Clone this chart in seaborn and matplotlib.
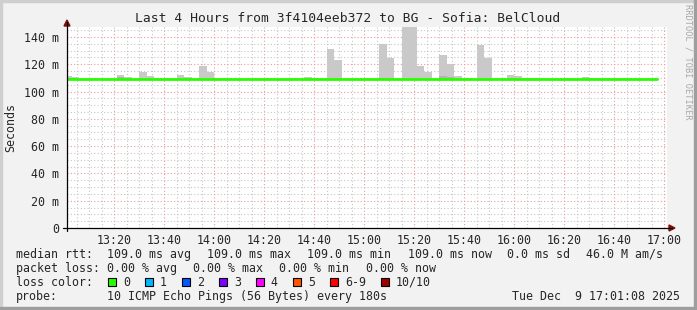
import matplotlib
matplotlib.use("Agg")
import matplotlib.pyplot as plt
from matplotlib.lines import Line2D
from matplotlib.patches import Polygon, Rectangle
import seaborn as sns
import pandas as pd

# ---------------- data ----------------
title = "Last 4 Hours from 3f4104eeb372 to BG - Sofia: BelCloud"
# smoke steps: start minute after 13:00, step of 3 minutes (180 s)
smoke_start = [0, 3, 21, 24, 30, 33, 45, 48, 54, 57, 96, 99, 105, 108, 126, 129,
               135, 138, 141, 144, 150, 153, 156, 159, 165, 168, 177, 180, 183, 186,
               207, 210]
smoke_top = [111.4, 110.5, 112.2, 110.5, 114.0, 111.4, 112.2, 110.7, 119.0, 114.4,
             110.7, 110.0, 131.2, 122.8, 134.9, 124.6, 150.0, 150.0, 119.0, 114.4,
             126.8, 120.2, 111.4, 110.0, 134.2, 124.6, 112.2, 111.4, 110.0, 110.0,
             110.7, 110.0]
smoke_inner = [110.0, 109.0, 110.6, 109.0, 109.0, 109.0, 109.0, 109.0, 109.0, 109.0,
               109.0, 109.0, 109.0, 109.0, 110.0, 109.0, 109.0, 109.0, 109.0, 109.0,
               111.4, 110.7, 109.0, 109.0, 109.0, 109.0, 109.0, 109.0, 109.0, 109.0,
               109.0, 109.0]
smoke_base = 109.0
step_minutes = 3
median_time = [1.13, 237.0]
median_rtt = [109.0, 109.0]

x_ticks = [20, 40, 60, 80, 100, 120, 140, 160, 180, 200, 220, 240]
x_labels = ["13:20", "13:40", "14:00", "14:20", "14:40", "15:00", "15:20",
            "15:40", "16:00", "16:20", "16:40", "17:00"]
y_ticks = [0, 20, 40, 60, 80, 100, 120, 140]
y_labels = ["0", "20 m", "40 m", "60 m", "80 m", "100 m", "120 m", "140 m"]
x_range = [1.13, 241.13]
y_range = [0, 147.3]

rtt_fields = ["109.0 ms avg", "109.0 ms max", "109.0 ms min", "109.0 ms now",
              "0.0 ms sd", "46.0 M am/s"]
loss_fields = ["0.00 % avg", "0.00 % max", "0.00 % min", "0.00 % now"]
loss_labels = ["0", "1", "2", "3", "4", "5", "6-9", "10/10"]
loss_colors = ["#26ff00", "#00b8ff", "#0059ff", "#7e00ff", "#ff00ff",
               "#ff5500", "#ff0000", "#a10000"]
probe_text = "10 ICMP Echo Pings (56 Bytes) every 180s"
date_text = "Tue Dec  9 17:01:08 2025"

# ---------------- figure ----------------
sns.set_style("white")
plt.rcParams["font.family"] = ["DejaVu Sans Mono"]
FS = 8.4
W, H = 697, 310
fig = plt.figure(figsize=(W / 100, H / 100), dpi=100, facecolor="#f2f2f2")

def fx(px):
    return px / W

def fy(py):
    return 1 - py / H

L, R, T, B = 67, 667, 27, 228
ax = fig.add_axes([fx(L), fy(B), (R - L) / W, (B - T) / H])
ax.set_facecolor("white")
ax.set_xlim(*x_range)
ax.set_ylim(*y_range)

# grid
minor_c, major_c = "#c6c6c6", "#eb9a9a"
for m in range(5, 245, 5):
    if m % 20 == 0:
        continue
    ax.axvline(m, color=minor_c, lw=0.8, ls=(0, (1, 2)), zorder=0)
for v in range(5, 150, 5):
    if v % 20 == 0:
        continue
    ax.axhline(v, color=minor_c, lw=0.8, ls=(0, (1, 2)), zorder=0)
for m in x_ticks:
    ax.axvline(m, color=major_c, lw=0.8, ls=(0, (1, 2)), zorder=0.5)
for v in y_ticks[1:]:
    ax.axhline(v, color=major_c, lw=0.8, ls=(0, (1, 2)), zorder=0.5)

# smoke
ax.bar(smoke_start, [t - smoke_base for t in smoke_top], bottom=smoke_base,
       width=step_minutes, align="edge", color="#c9c9c9", linewidth=0, zorder=1)
ax.bar(smoke_start, [t - smoke_base for t in smoke_inner], bottom=smoke_base,
       width=step_minutes, align="edge", color="#b3b3b3", linewidth=0, zorder=1.1)

# median line
df = pd.DataFrame({"t": median_time, "rtt": median_rtt})
sns.lineplot(data=df, x="t", y="rtt", ax=ax, color="#26ff00", lw=2.0, zorder=3)
ax.set_xlabel("")
ax.set_ylabel("")

for s in ax.spines.values():
    s.set_visible(False)
ax.set_xticks(x_ticks)
ax.set_xticklabels(x_labels, fontsize=FS)
ax.set_yticks(y_ticks)
ax.set_yticklabels(y_labels, fontsize=FS)
ax.tick_params(axis="x", length=0, pad=4.5)
ax.tick_params(axis="y", length=2.5, pad=3, width=0.8, color="black")

# axis lines with arrows
arrow_c = "#7f1010"
fig.add_artist(Line2D([fx(L), fx(L)], [fy(B + 3), fy(22)], color="black", lw=0.9))
fig.add_artist(Line2D([fx(L - 4), fx(672)], [fy(B), fy(B)], color="black", lw=0.9))
fig.add_artist(Polygon([[fx(L - 3), fy(26)], [fx(L + 3), fy(26)], [fx(L), fy(20)]],
                       closed=True, color=arrow_c, transform=fig.transFigure))
fig.add_artist(Polygon([[fx(669), fy(B - 3)], [fx(669), fy(B + 3)], [fx(675), fy(B)]],
                       closed=True, color=arrow_c, transform=fig.transFigure))

# frame
fig.add_artist(Rectangle((0, fy(2)), 1, 2 / H, color="#cfcfcf", transform=fig.transFigure))
fig.add_artist(Rectangle((0, 0), 2 / W, 1, color="#cfcfcf", transform=fig.transFigure))
fig.add_artist(Rectangle((fx(694), 0), 3 / W, 1, color="#9e9e9e", transform=fig.transFigure))
fig.add_artist(Rectangle((0, 0), 1, 3 / H, color="#9e9e9e", transform=fig.transFigure))

# texts
fig.text(fx(348), fy(19), title, ha="center", va="center", fontsize=9.4)
fig.text(fx(11), fy(127), "Seconds", ha="center", va="center", rotation=90, fontsize=FS)
fig.text(fx(688), fy(4), "RRDTOOL / TOBI OETIKER", ha="center", va="top",
         rotation=270, fontsize=6.2, color="#a8a8a8")

y1, y2, y3, y4 = 254.3, 268.3, 282.0, 296.3
fig.text(fx(16), fy(y1), "median rtt:", va="center", fontsize=FS)
for xp, s in zip([107.3, 206.7, 306.7, 408.3, 507.3, 586.0], rtt_fields):
    fig.text(fx(xp), fy(y1), s, va="center", fontsize=FS)
fig.text(fx(16), fy(y2), "packet loss:", va="center", fontsize=FS)
for xp, s in zip([107.3, 193.3, 279.3, 365.7], loss_fields):
    fig.text(fx(xp), fy(y2), s, va="center", fontsize=FS)
fig.text(fx(16), fy(y3), "loss color:", va="center", fontsize=FS)
xp = 108.3
for lab, col in zip(loss_labels, loss_colors):
    fig.add_artist(Rectangle((fx(xp), fy(y3 + 4)), 8 / W, 8 / H, facecolor=col,
                             edgecolor="black", lw=0.8, transform=fig.transFigure))
    fig.text(fx(xp + 14.5), fy(y3), lab, va="center", fontsize=FS)
    xp += 14.5 + len(lab) * 7.0 + 15.5
fig.text(fx(16), fy(y4), "probe:", va="center", fontsize=FS)
fig.text(fx(107.3), fy(y4), probe_text, va="center", fontsize=FS)
fig.text(fx(680), fy(y4), date_text, va="center", ha="right", fontsize=FS)

fig.savefig("out.png", dpi=100, facecolor=fig.get_facecolor())
